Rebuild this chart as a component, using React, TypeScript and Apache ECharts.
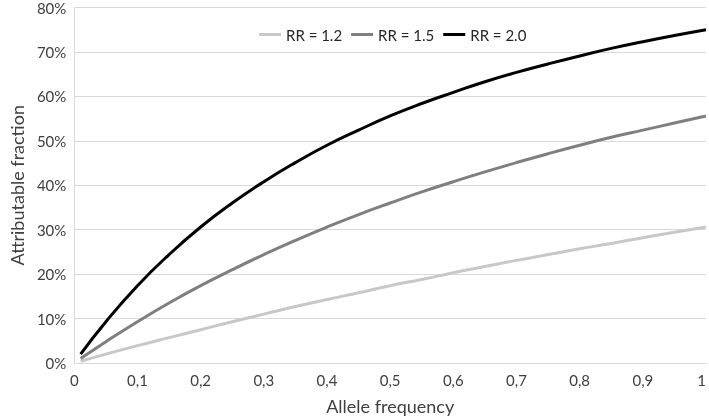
import React, { useEffect, useRef } from "react";
import * as echarts from "echarts";

const alleleFreq = [0.01, 0.05, 0.1, 0.15, 0.2, 0.25, 0.3, 0.35, 0.4, 0.45, 0.5, 0.55, 0.6, 0.65, 0.7, 0.75, 0.8, 0.85, 0.9, 0.95, 1];
const rr12 = [0.004, 0.02, 0.039, 0.057, 0.075, 0.093, 0.11, 0.127, 0.143, 0.158, 0.174, 0.188, 0.203, 0.217, 0.231, 0.244, 0.257, 0.269, 0.282, 0.294, 0.306];
const rr15 = [0.01, 0.048, 0.093, 0.135, 0.174, 0.21, 0.244, 0.276, 0.306, 0.334, 0.36, 0.385, 0.408, 0.43, 0.451, 0.471, 0.49, 0.508, 0.524, 0.54, 0.556];
const rr20 = [0.02, 0.093, 0.174, 0.244, 0.306, 0.36, 0.408, 0.451, 0.49, 0.524, 0.556, 0.584, 0.609, 0.633, 0.654, 0.673, 0.691, 0.708, 0.723, 0.737, 0.75];
const seriesNames = ["RR = 1.2", "RR = 1.5", "RR = 2.0"];
const seriesColors = ["#c8c8c8", "#7f7f7f", "#000000"];

const FONT = "Lato, 'Open Sans', sans-serif";

export default function App() {
  const ref = useRef<HTMLDivElement>(null);
  useEffect(() => {
    if (!ref.current) return;
    const chart = echarts.init(ref.current, null, { renderer: "svg" });
    const all = [rr12, rr15, rr20];
    chart.setOption({
      animation: false,
      textStyle: { fontFamily: FONT },
      grid: { left: 62, right: 3, top: 6, bottom: 53, containLabel: false },
      legend: {
        left: 254,
        top: 22,
        itemWidth: 22,
        itemHeight: 3,
        itemGap: 9,
        icon: "rect",
        textStyle: { fontFamily: FONT, fontSize: 15, color: "#262626" },
        data: seriesNames,
      },
      xAxis: {
        type: "value",
        min: 0,
        max: 1,
        interval: 0.1,
        name: "Allele frequency",
        nameLocation: "middle",
        nameGap: 34,
        nameTextStyle: { fontFamily: FONT, fontSize: 18, color: "#404040" },
        axisLine: { show: true, lineStyle: { color: "#d9d9d9", width: 1 } },
        axisTick: { show: false },
        splitLine: { show: false },
        axisLabel: {
          fontFamily: FONT,
          fontSize: 15,
          color: "#404040",
          margin: 9,
          showMaxLabel: true,
          alignMaxLabel: "right",
          formatter: (v: number) => String(Math.round(v * 10) / 10).replace(".", ","),
        },
      },
      yAxis: {
        type: "value",
        min: 0,
        max: 0.8,
        interval: 0.1,
        name: "Attributable fraction",
        nameLocation: "middle",
        nameGap: 44,
        nameTextStyle: { fontFamily: FONT, fontSize: 18, color: "#404040" },
        axisLine: { show: true, lineStyle: { color: "#d9d9d9", width: 1 } },
        axisTick: { show: false },
        splitLine: { show: true, lineStyle: { color: "#d9d9d9", width: 1 } },
        axisLabel: {
          fontFamily: FONT,
          fontSize: 15,
          color: "#404040",
          margin: 8,
          formatter: (v: number) => Math.round(v * 100) + "%",
        },
      },
      series: seriesNames.map((name, i) => ({
        name,
        type: "line",
        smooth: true,
        showSymbol: false,
        symbol: "none",
        data: alleleFreq.map((x, j) => [x, all[i][j]]),
        lineStyle: { color: seriesColors[i], width: 3 },
        itemStyle: { color: seriesColors[i] },
      })),
    });
    return () => chart.dispose();
  }, []);
  return (
    <div
      ref={ref}
      style={{ position: "fixed", left: 0, top: 0, width: 709, height: 420 }}
    />
  );
}
